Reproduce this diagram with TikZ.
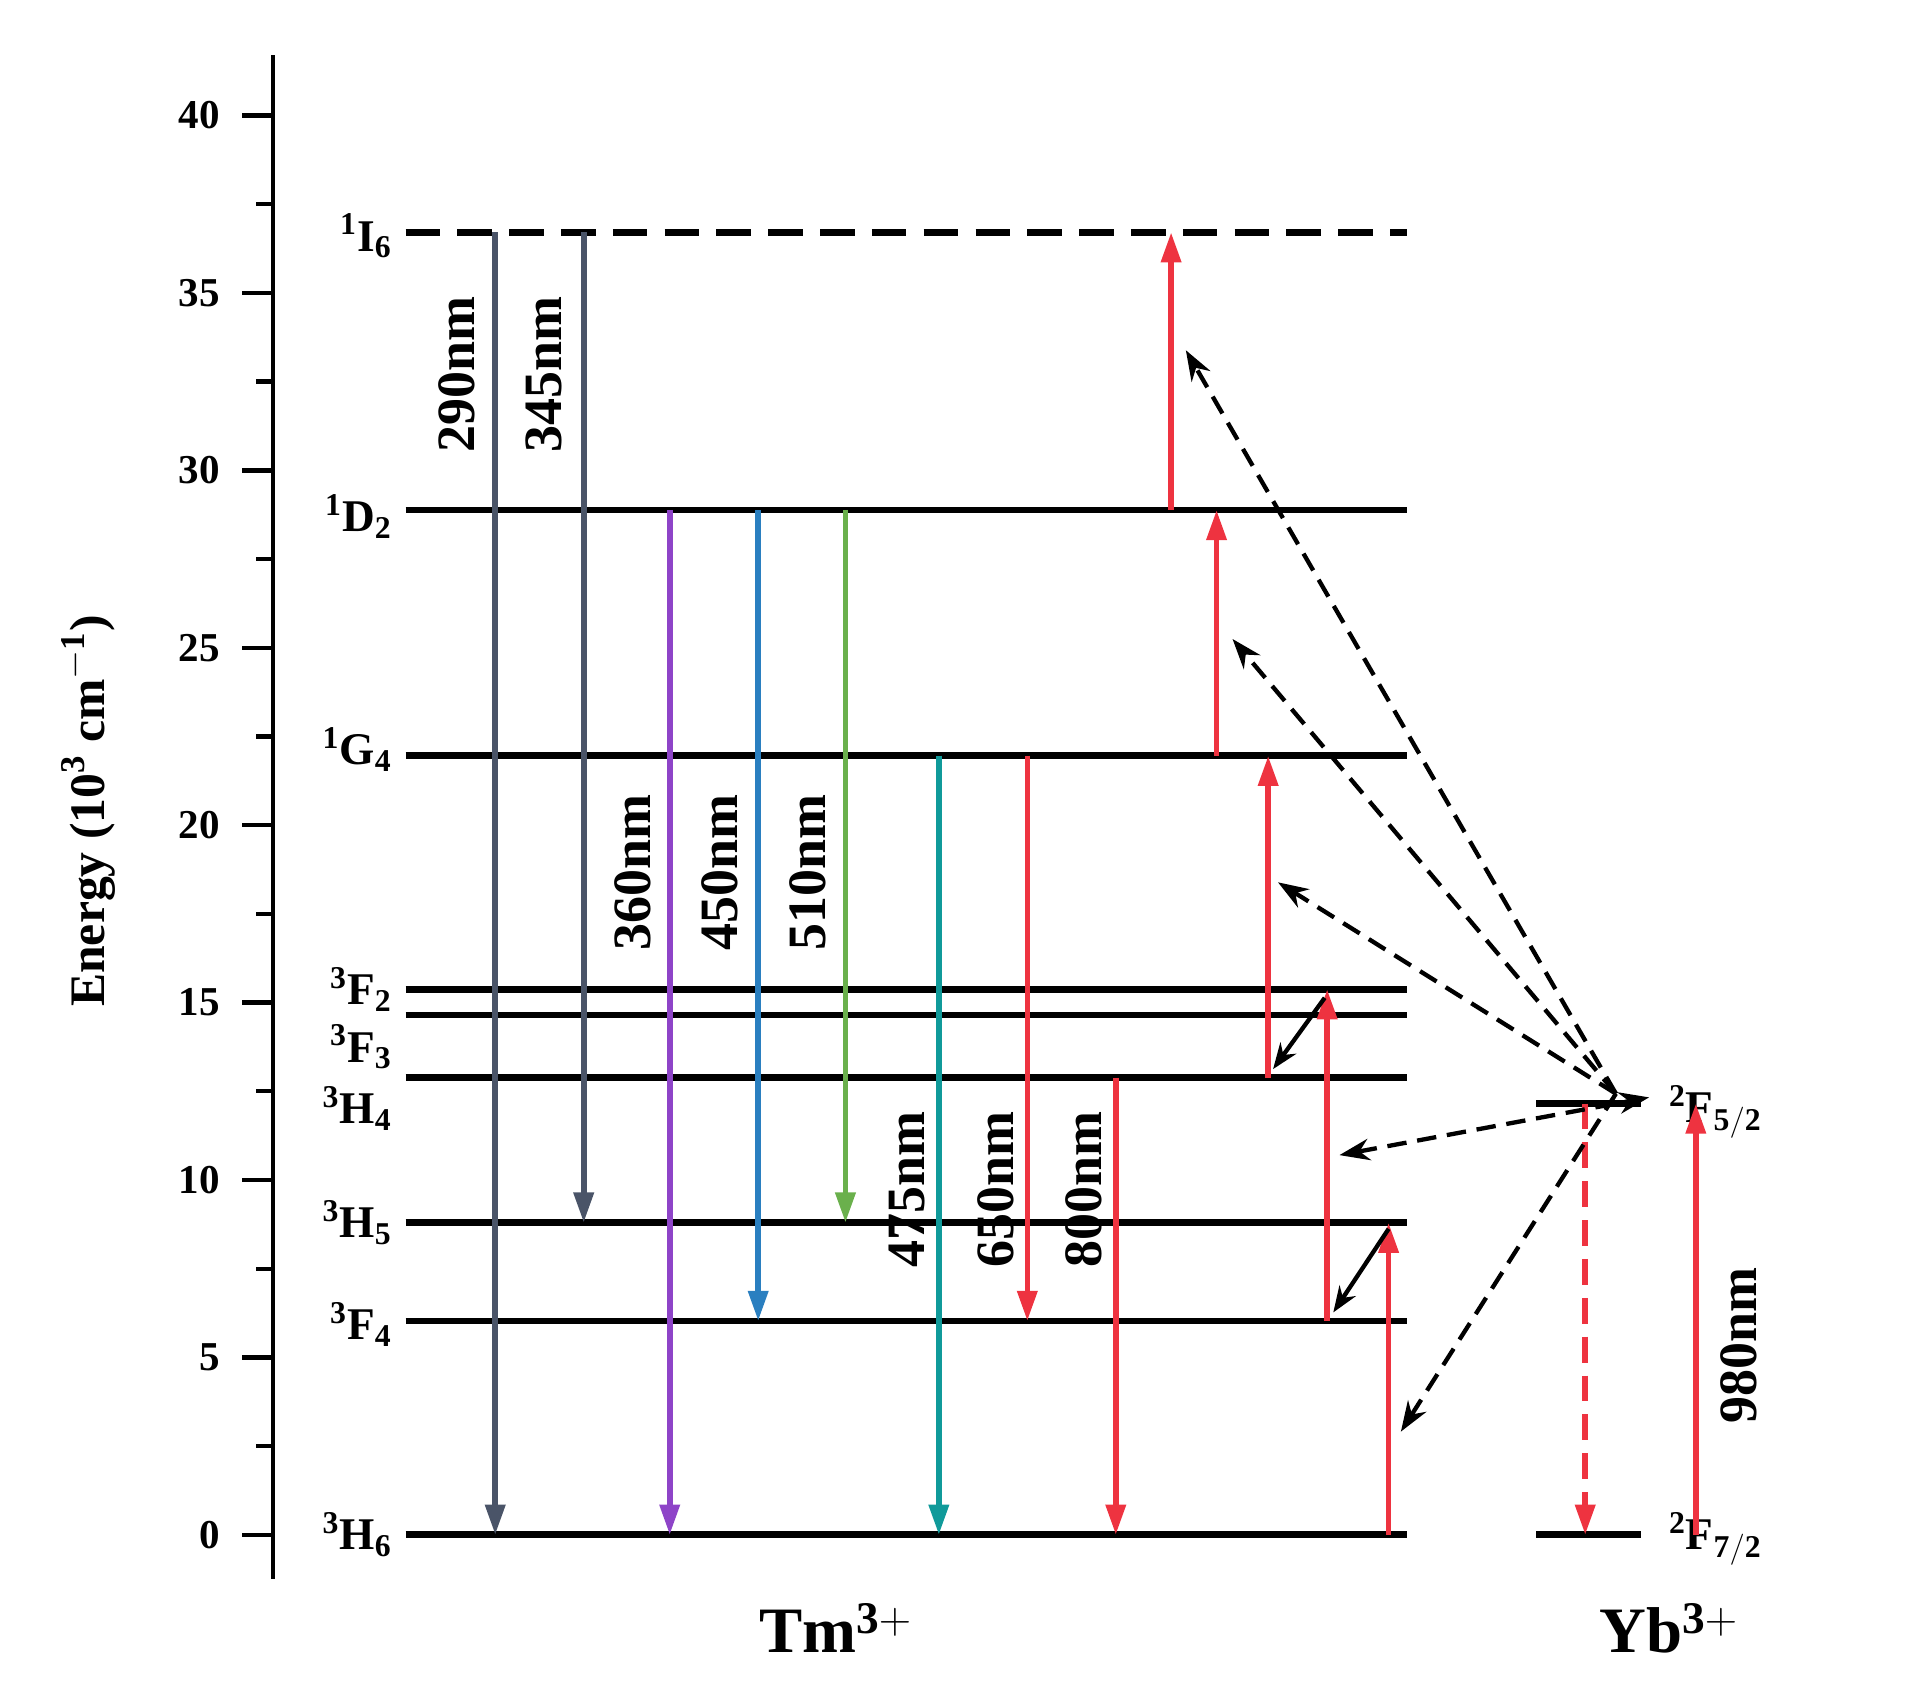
\documentclass[tikz,border=0pt]{standalone}
\usepackage{fontspec}
\setmainfont{Liberation Serif}
\usetikzlibrary{arrows.meta}
\begin{document}
\begin{tikzpicture}[x=0.02cm,y=-0.02cm,
 lev/.style={line width=3.2pt},
 tr/.style={line width=2.6pt,-{Triangle[length=14pt,width=9pt]}},
 dsh/.style={line width=2pt,dashed,dash pattern=on 9pt off 5pt,-{Stealth[length=14pt,width=10pt]}},
 lbl/.style={font=\fontsize{21}{22}\selectfont\bfseries,anchor=east},
 nm/.style={font=\fontsize{25}{26}\selectfont\bfseries,rotate=90},
 tk/.style={font=\fontsize{19}{20}\selectfont\bfseries,anchor=east}]
\useasboundingbox (0,0) rectangle (1560,1383);
\definecolor{cgray}{HTML}{4A5468}\definecolor{cpur}{HTML}{8E44C8}
\definecolor{cblu}{HTML}{2A7FC0}\definecolor{cgrn}{HTML}{6AB04C}
\definecolor{cteal}{HTML}{109A9A}\definecolor{cred}{HTML}{EE3340}
% axis
\draw[line width=2pt] (222,45) -- (222,1285);
\foreach \e in {0,5,...,40}{\draw[line width=2pt] (222,1249-28.875*\e) -- ++(-25,0);
 \node[tk] at (185,1249-28.875*\e) {\e};}
\foreach \e in {2.5,7.5,...,37.5}{\draw[line width=2pt] (222,1249-28.875*\e) -- ++(-14,0);}
\node[font=\fontsize{23}{24}\selectfont\bfseries,rotate=90] (yl) at (72,660) {Energy (10$^{\mathbf 3}$ cm$^{\mathbf{-1}}$)};
% levels
\draw[lev,dashed,dash pattern=on 16pt off 8pt] (330,189) -- (1145,189);
\foreach \y in {415,615,805,826,877,995,1075,1249}{\draw[lev] (330,\y) -- (1145,\y);}
\draw[lev] (1250,898) -- (1335,898);
\draw[lev] (1250,1249) -- (1335,1249);
\node[lbl] at (325,192) {$^{\mathbf 1}$I$_{\mathbf 6}$};
\node[lbl] at (325,420) {$^{\mathbf 1}$D$_{\mathbf 2}$};
\node[lbl] at (325,610) {$^{\mathbf 1}$G$_{\mathbf 4}$};
\node[lbl] at (325,805) {$^{\mathbf 3}$F$_{\mathbf 2}$};
\node[lbl] at (325,852) {$^{\mathbf 3}$F$_{\mathbf 3}$};
\node[lbl] at (325,902) {$^{\mathbf 3}$H$_{\mathbf 4}$};
\node[lbl] at (325,995) {$^{\mathbf 3}$H$_{\mathbf 5}$};
\node[lbl] at (325,1078) {$^{\mathbf 3}$F$_{\mathbf 4}$};
\node[lbl] at (325,1249) {$^{\mathbf 3}$H$_{\mathbf 6}$};
\node[lbl,anchor=west] at (1352,905) {$^{\mathbf 2}$F$_{\mathbf{5/2}}$};
\node[lbl,anchor=west] at (1352,1252) {$^{\mathbf 2}$F$_{\mathbf{7/2}}$};
\node[font=\fontsize{30}{31}\selectfont\bfseries] at (680,1325) {Tm$^{\mathbf{3+}}$};
\node[font=\fontsize{30}{31}\selectfont\bfseries] at (1358,1325) {Yb$^{\mathbf{3+}}$};
% down transitions
\draw[tr,cgray] (403,189) -- (403,1249); \node[nm] at (372,305) {290nm};
\draw[tr,cgray] (475,189) -- (475,995); \node[nm] at (443,305) {345nm};
\draw[tr,cpur] (545,415) -- (545,1249); \node[nm] at (515,710) {360nm};
\draw[tr,cblu] (617,415) -- (617,1075); \node[nm] at (586,710) {450nm};
\draw[tr,cgrn] (688,415) -- (688,995); \node[nm] at (657,710) {510nm};
\draw[tr,cteal] (764,615) -- (764,1249); \node[nm] at (738,968) {475nm};
\draw[tr,cred] (836,615) -- (836,1075); \node[nm] at (810,968) {650nm};
\draw[tr,cred] (908,877) -- (908,1249); \node[nm] at (882,968) {800nm};
% up transitions
\draw[tr,cred] (953,415) -- (953,189);
\draw[tr,cred] (990,615) -- (990,415);
\draw[tr,cred] (1032,877) -- (1032,615);
\draw[tr,cred] (1080,1075) -- (1080,805);
\draw[tr,cred] (1130,1249) -- (1130,995);
\draw[tr,cred] (1380,1249) -- (1380,898); \node[nm] at (1415,1095) {980nm};
\draw[tr,cred,dashed,dash pattern=on 12pt off 6pt] (1290,898) -- (1290,1249);
% energy transfer
\coordinate (yb) at (1315,890);
\foreach \p in {(965,285),(1003,520),(1040,718),(1140,1165)}{\draw[dsh] (yb) -- \p;}
\draw[dsh,{Stealth[length=14pt,width=10pt]}-{Stealth[length=14pt,width=10pt]}] (1090,940) -- (1342,893);
\draw[line width=2pt,-{Stealth[length=12pt,width=9pt]}] (1078,812) -- (1036,870);
\draw[line width=2pt,-{Stealth[length=12pt,width=9pt]}] (1130,1000) -- (1085,1068);
\end{tikzpicture}
\end{document}
